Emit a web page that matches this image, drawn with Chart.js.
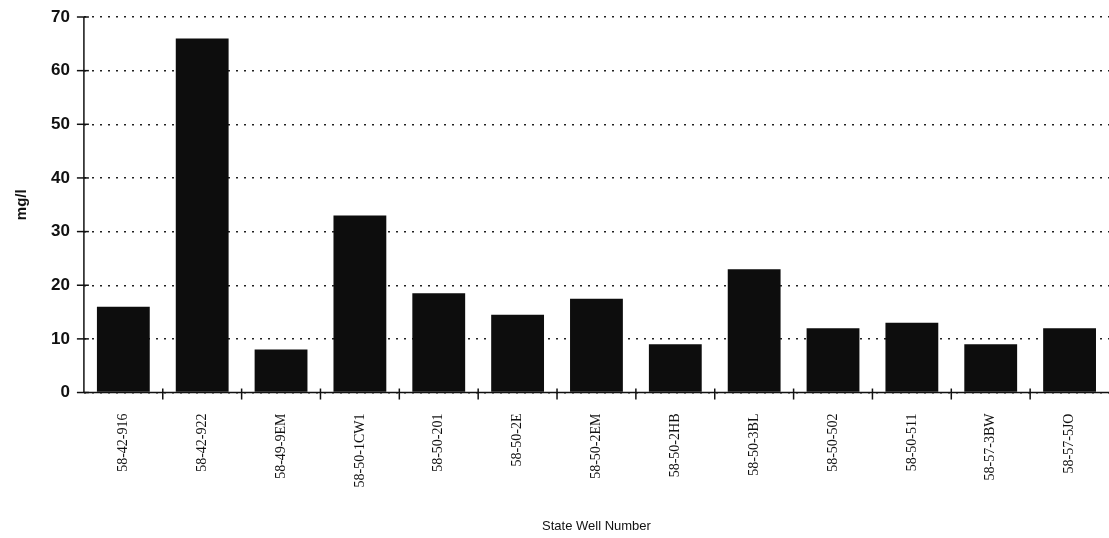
<!DOCTYPE html>
<html>
<head>
<meta charset="utf-8">
<script src="https://cdn.jsdelivr.net/npm/chart.js@4.4.1/dist/chart.umd.min.js"></script>
<style>
html,body{margin:0;padding:0;background:#fff;}
#wrap{width:1109px;height:538px;position:relative;}
</style>
</head>
<body>
<div id="wrap"><canvas id="c" width="1109" height="538"></canvas></div>
<script>
const categories = ["58-42-916","58-42-922","58-49-9EM","58-50-1CW1","58-50-201","58-50-2E","58-50-2EM","58-50-2HB","58-50-3BL","58-50-502","58-50-511","58-57-3BW","58-57-5JO"];
const values = [16, 66, 8, 33, 18.5, 14.5, 17.5, 9, 23, 12, 13, 9, 12];
const yTicks = [0,10,20,30,40,50,60,70];
const yTitle = "mg/l";
const xTitle = "State Well Number";

const crossTicks = {
  id:'crossTicks',
  afterDatasetsDraw(chart){
    const ctx = chart.ctx, x = chart.scales.x, y = chart.scales.y;
    const y0 = y.getPixelForValue(0);
    const yTop = y.getPixelForValue(70);
    ctx.save();
    ctx.strokeStyle = '#111'; ctx.lineWidth = 1.5;
    ctx.beginPath(); ctx.moveTo(x.left, y0); ctx.lineTo(x.right, y0); ctx.stroke();
    ctx.beginPath(); ctx.moveTo(x.left, yTop); ctx.lineTo(x.left, y0); ctx.stroke();
    for(let i=1;i<categories.length;i++){
      const px = (x.getPixelForValue(i-1) + x.getPixelForValue(i))/2;
      ctx.beginPath(); ctx.moveTo(px, y0-4); ctx.lineTo(px, y0+7); ctx.stroke();
    }
    yTicks.forEach(v=>{
      const py = y.getPixelForValue(v);
      ctx.beginPath(); ctx.moveTo(x.left-7, py); ctx.lineTo(x.left+5, py); ctx.stroke();
    });
    ctx.restore();
  }
};

new Chart(document.getElementById('c'), {
  type:'bar',
  data:{labels:categories, datasets:[{data:values, backgroundColor:'#0d0d0d', borderWidth:0, barPercentage:0.67, categoryPercentage:1}]},
  options:{
    responsive:false, animation:false,
    layout:{padding:{top:17,right:0,left:13,bottom:4}},
    plugins:{legend:{display:false}, tooltip:{enabled:false}},
    scales:{
      x:{
        grid:{display:false},
        border:{display:false},
        ticks:{autoSkip:false, minRotation:90, maxRotation:90, padding:13, color:'#111', font:{family:'Liberation Serif', size:14}},
        title:{display:true, text:xTitle, color:'#111', font:{family:'Liberation Sans', size:13}, padding:{top:18,bottom:0}}
      },
      y:{
        min:0, max:70,
        afterBuildTicks(s){ s.ticks = yTicks.map(v=>({value:v})); },
        afterFit(s){ s.paddingTop = 0; },
        grid:{color:'#222', lineWidth:1.4, drawTicks:false},
        border:{display:false, dash:[2,6]},
        ticks:{padding:14, color:'#111', font:{family:'Liberation Sans', size:17, weight:'bold'}},
        title:{display:true, text:yTitle, color:'#111', font:{family:'Liberation Sans', size:15, weight:'bold'}, padding:{top:0,bottom:6}}
      }
    }
  },
  plugins:[crossTicks]
});
</script>
</body>
</html>
